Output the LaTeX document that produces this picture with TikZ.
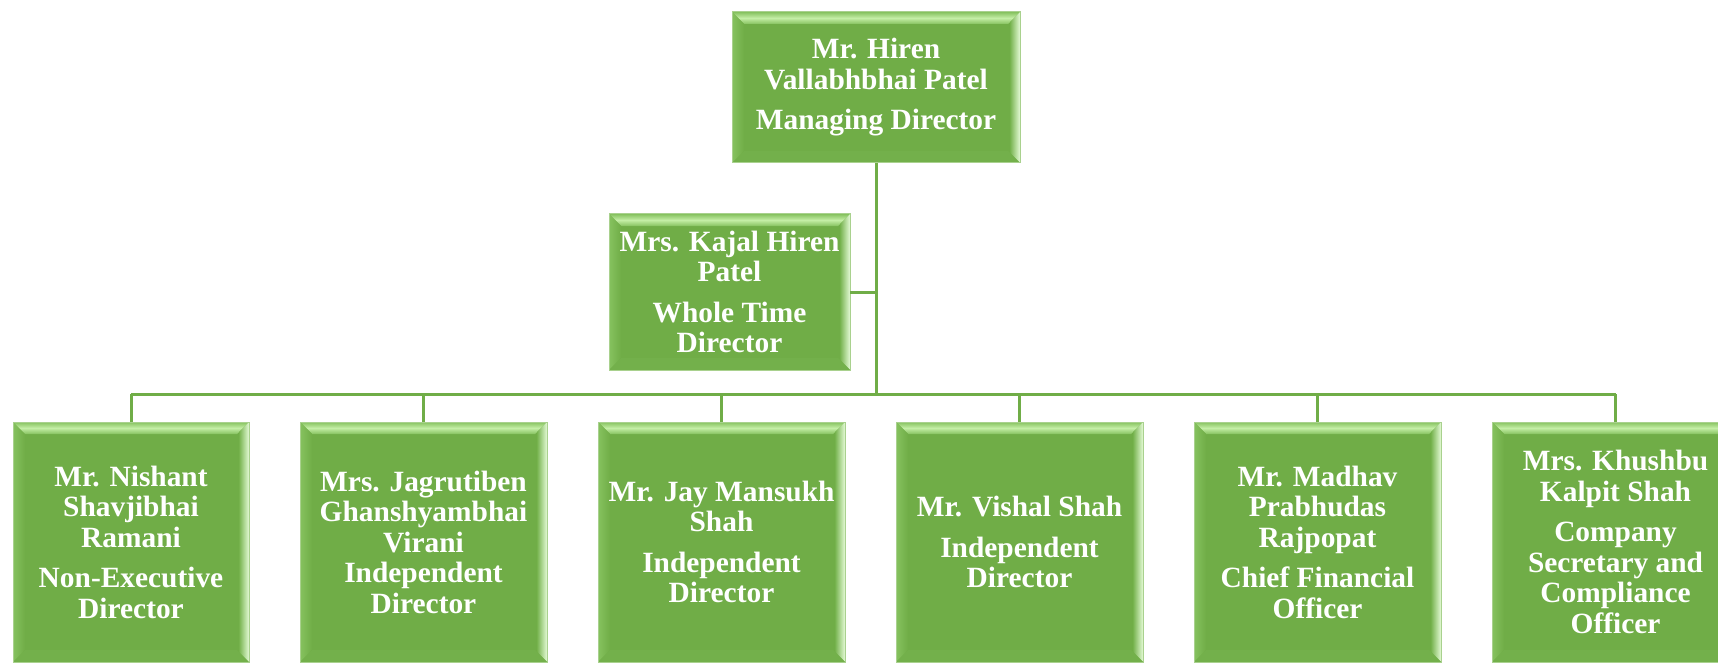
\documentclass[tikz,border=0pt]{standalone}
\usepackage{fontspec}
\setmainfont{Liberation Serif}
\usepackage{tikz}
\usetikzlibrary{positioning}

\definecolor{boxgreen}{HTML}{70AD47}
\definecolor{edgegreen}{HTML}{A9D18E}
\definecolor{bevmid}{HTML}{86C25F}
\definecolor{bevlight}{HTML}{C4EEA6}
\definecolor{bevpale}{HTML}{E4FAD6}

\tikzset{
  person/.style={draw=edgegreen, line width=1pt, fill=boxgreen, text=white,
    align=center, inner sep=0pt, outer sep=0pt,
    minimum width=247pt, minimum height=240pt,
    font=\bfseries\fontsize{29.4}{30.5}\selectfont,
    path picture={
      \path (path picture bounding box.north west) coordinate (bnw)
            (path picture bounding box.north east) coordinate (bne)
            (path picture bounding box.south west) coordinate (bsw)
            (path picture bounding box.south east) coordinate (bse);
      % bevel: top, left, right, bottom
      \shade[top color=bevmid, bottom color=bevmid, middle color=bevlight]
        (bnw) -- (bne) -- ([shift={(-12pt,-12pt)}]bne) -- ([shift={(12pt,-12pt)}]bnw) -- cycle;
      \shade[left color=bevmid, right color=boxgreen]
        (bnw) -- ([shift={(12pt,-12pt)}]bnw) -- ([shift={(12pt,12pt)}]bsw) -- (bsw) -- cycle;
      \shade[left color=boxgreen!70!bevmid, right color=bevpale]
        (bne) -- ([shift={(-10pt,-10pt)}]bne) -- ([shift={(-10pt,10pt)}]bse) -- (bse) -- cycle;
      \fill[boxgreen!85!bevmid]
        (bsw) -- ([shift={(12pt,12pt)}]bsw) -- ([shift={(-12pt,12pt)}]bse) -- (bse) -- cycle;
    }},
  link/.style={draw=boxgreen, line width=3pt},
}

\begin{document}
\begin{tikzpicture}[x=1pt, y=-1pt, node distance=51pt]
  \useasboundingbox (0,0) rectangle (1718,663);

  % Managing director and whole time director
  \node[person, minimum width=288pt, minimum height=151pt] (md) at (876,87.5)
    {Mr. Hiren\\Vallabhbhai Patel\\[10pt]Managing Director};
  \node[person, minimum width=241pt, minimum height=156pt] (wtd) at (729.5,292)
    {Mrs. Kajal Hiren\\Patel\\[10pt]Whole Time\\Director};

  % Board row
  \node[person, minimum width=236pt] (d1) at (131,542)
    {Mr. Nishant\\Shavjibhai\\Ramani\\[10pt]Non-Executive\\Director};
  \node[person, right=of d1] (d2)
    {Mrs. Jagrutiben\\Ghanshyambhai\\Virani\\Independent\\Director};
  \node[person, right=of d2] (d3)
    {Mr. Jay Mansukh\\Shah\\[10pt]Independent\\Director};
  \node[person, right=of d3] (d4)
    {Mr. Vishal Shah\\[10pt]Independent\\Director};
  \node[person, right=of d4] (d5)
    {Mr. Madhav\\Prabhudas\\Rajpopat\\[10pt]Chief Financial\\Officer};
  \node[person, right=of d5] (d6)
    {Mrs. Khushbu\\Kalpit Shah\\[10pt]Company\\Secretary and\\Compliance\\Officer};

  % Connectors
  \coordinate (bus) at (876,394);
  \draw[link] (md.south) -- (bus);
  \draw[link] (wtd.east) -- (wtd.east -| md.south);
  \draw[link] (d1.north |- bus) -- (d6.north |- bus);
  \foreach \i in {1,...,6}
    \draw[link] (d\i.north) -- (d\i.north |- bus);
\end{tikzpicture}
\end{document}
